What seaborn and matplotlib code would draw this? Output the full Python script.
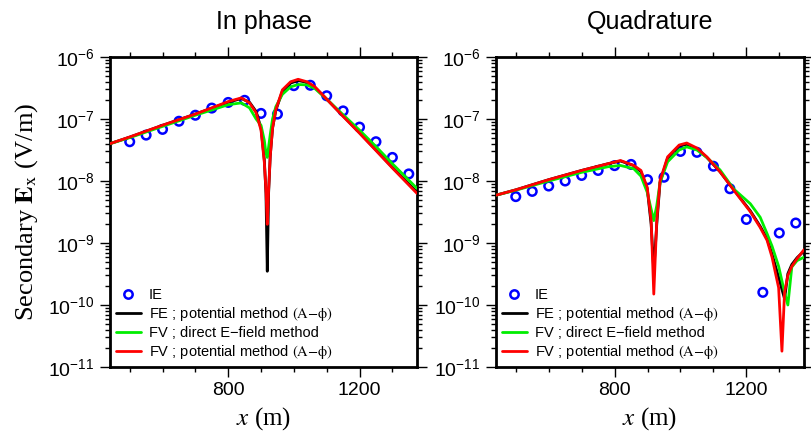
import numpy as np
import pandas as pd
import matplotlib
matplotlib.use("Agg")
import matplotlib.pyplot as plt
import seaborn as sns
from matplotlib.ticker import FixedLocator, NullFormatter, LogFormatterSciNotation
from matplotlib.lines import Line2D

# ---------------- data ----------------
x_ie = [500, 550, 600, 650, 700, 750, 800, 850, 900, 950,
        1000, 1050, 1100, 1150, 1200, 1250, 1300, 1350]
ie_inphase = [4.3e-8, 5.5e-8, 6.8e-8, 9.2e-8, 1.15e-7, 1.5e-7, 1.85e-7, 2.0e-7, 1.23e-7, 1.2e-7,
              3.45e-7, 3.5e-7, 2.37e-7, 1.35e-7, 7.4e-8, 4.3e-8, 2.4e-8, 1.3e-8]
ie_quad = [5.6e-9, 6.8e-9, 8.3e-9, 1.0e-8, 1.23e-8, 1.48e-8, 1.77e-8, 1.85e-8, 1.05e-8, 1.15e-8,
           3.0e-8, 2.9e-8, 1.73e-8, 7.5e-9, 2.4e-9, 1.6e-10, 1.45e-9, 2.1e-9]

x_ip = [440, 500, 600, 700, 800, 840, 865, 885, 900, 910, 915, 919, 923, 928,
        935, 945, 965, 990, 1013, 1040, 1064, 1100, 1150, 1200, 1250, 1300, 1375]
fe_pot_ip = [4.0e-8, 5.1e-8, 7.9e-8, 1.2e-7, 1.86e-7, 2.14e-7, 1.86e-7, 1.32e-7, 7.1e-8, 2.2e-8,
             6.3e-9, 3.5e-10, 6.3e-9, 2.5e-8, 7.1e-8, 1.38e-7, 2.8e-7, 3.8e-7, 4.17e-7, 3.9e-7,
             3.24e-7, 2.09e-7, 1.12e-7, 6.0e-8, 3.16e-8, 1.66e-8, 6.6e-9]
fv_dir_ip = [4.0e-8, 5.0e-8, 7.6e-8, 1.15e-7, 1.70e-7, 1.82e-7, 1.51e-7, 1.0e-7, 7.9e-8, 4.5e-8,
             2.8e-8, 2.4e-8, 3.5e-8, 5.6e-8, 1.0e-7, 1.58e-7, 2.5e-7, 3.3e-7, 3.6e-7, 3.55e-7,
             3.1e-7, 2.09e-7, 1.17e-7, 6.6e-8, 3.6e-8, 1.9e-8, 7.6e-9]
fv_pot_ip = [4.0e-8, 5.13e-8, 7.94e-8, 1.2e-7, 1.91e-7, 2.19e-7, 1.82e-7, 1.26e-7, 6.6e-8, 2.0e-8,
             7.1e-9, 2.0e-9, 7.1e-9, 2.5e-8, 7.1e-8, 1.41e-7, 2.95e-7, 3.98e-7, 4.37e-7, 3.98e-7,
             3.31e-7, 2.09e-7, 1.10e-7, 5.9e-8, 3.1e-8, 1.62e-8, 6.3e-9]

x_q = [440, 500, 600, 700, 780, 818, 858, 880, 899, 911, 919, 928, 938, 961, 996, 1019,
       1050, 1080, 1120, 1162, 1212, 1242, 1263, 1278, 1298, 1308, 1316, 1326, 1338, 1354, 1375]
fe_pot_q = [5.9e-9, 7.2e-9, 1.05e-8, 1.48e-8, 1.9e-8, 2.1e-8, 1.78e-8, 1.41e-8, 7.6e-9, 2.0e-9,
            3.5e-10, 2.0e-9, 9.5e-9, 2.35e-8, 3.7e-8, 3.9e-8, 3.3e-8, 2.4e-8, 1.41e-8, 7.2e-9,
            3.3e-9, 1.86e-9, 1.17e-9, 6.6e-10, 2.8e-10, 1.78e-10, 1.26e-10, 3.2e-10, 4.5e-10,
            5.8e-10, 7.4e-10]
fv_dir_q = [5.9e-9, 7.1e-9, 1.0e-8, 1.38e-8, 1.7e-8, 1.78e-8, 1.58e-8, 1.2e-8, 6.6e-9, 3.5e-9,
            2.3e-9, 4.0e-9, 9.5e-9, 2.04e-8, 3.16e-8, 3.55e-8, 3.16e-8, 2.4e-8, 1.51e-8, 7.4e-9,
            4.3e-9, 2.6e-9, 1.41e-9, 8.9e-10, 4.2e-10, 2.45e-10, 1.6e-10, 1.0e-10, 4.1e-10,
            5.2e-10, 5.9e-10]
fv_pot_q = [5.9e-9, 7.2e-9, 1.05e-8, 1.48e-8, 1.9e-8, 2.14e-8, 1.78e-8, 1.48e-8, 7.9e-9, 2.3e-9,
            1.5e-10, 2.3e-9, 1.02e-8, 2.45e-8, 3.8e-8, 4.1e-8, 3.4e-8, 2.45e-8, 1.41e-8, 7.1e-9,
            3.2e-9, 1.78e-9, 1.1e-9, 5.9e-10, 1.9e-10, 1.8e-11, 1.6e-10, 3.0e-10, 4.2e-10,
            5.6e-10, 7.8e-10]

titles = ["In phase", "Quadrature"]
x_major = [800, 1200]
x_minor = [500, 600, 700, 900, 1000, 1100, 1300]
y_major = [1e-11, 1e-10, 1e-9, 1e-8, 1e-7, 1e-6]
labels = ["IE",
          r"FE ; potential method $(\mathrm{A}{-}\mathrm{ϕ})$",
          "FV ; direct E\u2212field method",
          r"FV ; potential method $(\mathrm{A}{-}\mathrm{ϕ})$"]

# ---------------- style ----------------
sns.set_style("ticks")
plt.rcParams["font.family"] = ["Liberation Sans", "DejaVu Sans"]
plt.rcParams["mathtext.fontset"] = "stix"
for k in ["text.color", "axes.labelcolor", "xtick.color", "ytick.color", "axes.edgecolor"]:
    plt.rcParams[k] = "black"

fig = plt.figure(figsize=(8.11, 4.34), dpi=100)
axL = fig.add_axes([110 / 811, 1 - 367 / 434, 307 / 811, 310 / 434])
axR = fig.add_axes([496 / 811, 1 - 367 / 434, 308 / 811, 310 / 434])

panels = [
    (axL, x_ip, fe_pot_ip, fv_dir_ip, fv_pot_ip, ie_inphase),
    (axR, x_q, fe_pot_q, fv_dir_q, fv_pot_q, ie_quad),
]

# minor log ticks (2..9 within each decade shown)
y_minor = [m * d for d in y_major[:-1] for m in range(2, 10)]

for i, (ax, xs, fe, fvd, fvp, ie) in enumerate(panels):
    sns.scatterplot(x=x_ie, y=ie, ax=ax, marker="o", s=38, facecolor="none",
                    edgecolor="#0000ff", linewidth=1.8, zorder=2)
    sns.lineplot(x=xs, y=fe, ax=ax, color="black", lw=2.0, sort=False, zorder=3)
    sns.lineplot(x=xs, y=fvd, ax=ax, color="#00ee00", lw=2.0, sort=False, zorder=4)
    sns.lineplot(x=xs, y=fvp, ax=ax, color="#ff0000", lw=2.0, sort=False, zorder=5)
    ax.set_yscale("log")
    ax.set_ylim(1e-11, 1e-6)
    ax.set_xlim(440, 1375)
    ax.xaxis.set_major_locator(FixedLocator(x_major))
    ax.xaxis.set_minor_locator(FixedLocator(x_minor))
    ax.xaxis.set_minor_formatter(NullFormatter())
    ax.yaxis.set_major_locator(FixedLocator(y_major))
    ax.yaxis.set_major_formatter(LogFormatterSciNotation())
    ax.yaxis.set_minor_locator(FixedLocator(y_minor))
    ax.yaxis.set_minor_formatter(NullFormatter())
    ax.tick_params(which="both", direction="out", top=True, right=True,
                   labelsize=14, width=1.0, color="black", pad=4)
    ax.tick_params(which="major", length=7)
    ax.tick_params(which="minor", length=3.5)
    for s in ax.spines.values():
        s.set_linewidth(2.0)
        s.set_color("black")
        s.set_visible(True)
    ax.set_title(titles[i], fontsize=18, pad=20, color="black")
    ax.set_xlabel(r"$x$ (m)", fontsize=18, family="Liberation Serif", labelpad=4)

    handles = [
        Line2D([], [], ls="none", marker="o", mfc="none", mec="#0000ff", mew=1.8, ms=6),
        Line2D([], [], color="black", lw=2),
        Line2D([], [], color="#00ee00", lw=2),
        Line2D([], [], color="#ff0000", lw=2),
    ]
    ax.legend(handles, labels, loc="lower left", frameon=False, fontsize=10.5,
              handlelength=1.7, handletextpad=0.55, labelspacing=0.2,
              borderaxespad=0.2, borderpad=0.2, bbox_to_anchor=(0.0, 0.0))

axL.set_ylabel(r"Secondary $\mathbf{E}_{\mathrm{x}}$ (V/m)", fontsize=19,
               family="Liberation Serif", labelpad=6)

fig.savefig("out.png", dpi=100)
